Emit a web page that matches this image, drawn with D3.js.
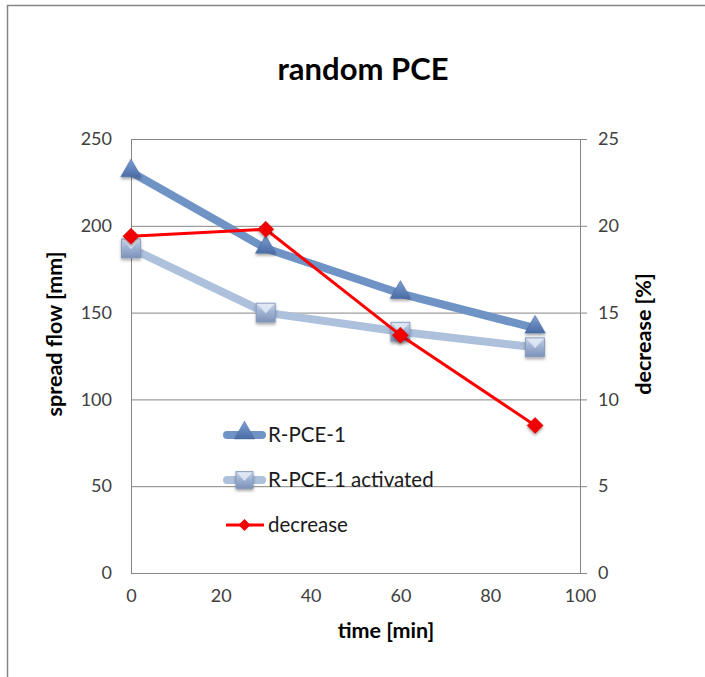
<!DOCTYPE html>
<html>
<head>
<meta charset="utf-8">
<script src="https://cdn.jsdelivr.net/npm/d3@7"></script>
<style>
  body { margin: 0; background: #fff; }
  text { font-family: Lato, "Open Sans", sans-serif; }
</style>
</head>
<body>
<div id="chart"></div>
<script>
// data
const times = [0, 30, 60, 90];
const rpce = [231, 187, 161, 141];
const rpceActivated = [187, 150, 139, 130];
const decrease = [19.4, 19.8, 13.7, 8.5];

const xTicks = [0, 20, 40, 60, 80, 100];
const yLeftTicks = [0, 50, 100, 150, 200, 250];
const yRightTicks = [0, 5, 10, 15, 20, 25];

const WIDTH = 705, HEIGHT = 677;
const PLOT = {left: 131, right: 580, top: 139, bottom: 573};

const svg = d3.select("#chart").append("svg")
    .attr("width", WIDTH)
    .attr("height", HEIGHT);

// chart frame (runs off the right and bottom)
svg.append("rect")
    .attr("x", 7.5).attr("y", 5.5)
    .attr("width", 720).attr("height", 700)
    .attr("fill", "#fff")
    .attr("stroke", "#868686")
    .attr("stroke-width", 1.5);

const defs = svg.append("defs");

const triGrad = defs.append("linearGradient").attr("id", "triGrad")
    .attr("x1", 0).attr("y1", 0).attr("x2", 0).attr("y2", 1);
triGrad.append("stop").attr("offset", "0%").attr("stop-color", "#7d9fd3");
triGrad.append("stop").attr("offset", "100%").attr("stop-color", "#4a6ca5");

const sqGrad = defs.append("linearGradient").attr("id", "sqGrad")
    .attr("x1", 0).attr("y1", 0).attr("x2", 0).attr("y2", 1);
sqGrad.append("stop").attr("offset", "0%").attr("stop-color", "#c9d6ea");
sqGrad.append("stop").attr("offset", "45%").attr("stop-color", "#9fb3d4");
sqGrad.append("stop").attr("offset", "100%").attr("stop-color", "#7d92b8");

const shadow = defs.append("filter").attr("id", "shadow")
    .attr("x", "-50%").attr("y", "-50%").attr("width", "200%").attr("height", "200%");
shadow.append("feDropShadow")
    .attr("dx", 0).attr("dy", 2).attr("stdDeviation", 1.5)
    .attr("flood-color", "#000").attr("flood-opacity", 0.35);

// scales
const X = d3.scaleLinear().domain([0, 100]).range([PLOT.left, PLOT.right]);
const YL = d3.scaleLinear().domain([0, 250]).range([PLOT.bottom, PLOT.top]);
const YR = d3.scaleLinear().domain([0, 25]).range([PLOT.bottom, PLOT.top]);

// gridlines
svg.append("g")
    .attr("transform", "translate(" + PLOT.left + ",0)")
    .call(d3.axisLeft(YL).tickValues(yLeftTicks)
        .tickSize(-(PLOT.right - PLOT.left)).tickFormat(""))
    .call(g => g.select(".domain").remove())
    .call(g => g.selectAll("line").attr("stroke", "#868686"));

// left axis
const leftAxis = svg.append("g")
    .attr("transform", "translate(" + PLOT.left + ",0)")
    .call(d3.axisLeft(YL).tickValues(yLeftTicks).tickSize(0).tickPadding(19));
leftAxis.select(".domain").attr("stroke", "#868686");
leftAxis.selectAll("text").attr("font-size", "18px").attr("fill", "#404040")
    .attr("font-family", "Lato, sans-serif");

// right axis
const rightAxis = svg.append("g")
    .attr("transform", "translate(" + PLOT.right + ",0)")
    .call(d3.axisRight(YR).tickValues(yRightTicks).tickSize(7).tickPadding(11));
rightAxis.select(".domain").attr("stroke", "#868686");
rightAxis.selectAll("line").attr("stroke", "#868686");
rightAxis.selectAll("text").attr("font-size", "18px").attr("fill", "#404040")
    .attr("font-family", "Lato, sans-serif");

// bottom axis
const bottomAxis = svg.append("g")
    .attr("transform", "translate(0," + PLOT.bottom + ")")
    .call(d3.axisBottom(X).tickValues(xTicks).tickSize(0).tickPadding(16));
bottomAxis.select(".domain").attr("stroke", "#868686");
bottomAxis.selectAll("text").attr("font-size", "18px").attr("fill", "#404040")
    .attr("font-family", "Lato, sans-serif");

// titles
svg.append("text")
    .attr("x", 363).attr("y", 80)
    .attr("text-anchor", "middle")
    .attr("font-size", "31px").attr("font-weight", "bold")
    .text("random PCE");

svg.append("text")
    .attr("x", 386).attr("y", 638)
    .attr("text-anchor", "middle")
    .attr("font-size", "21.5px").attr("font-weight", "bold")
    .text("time [min]");

svg.append("text")
    .attr("transform", "translate(62,334) rotate(-90)")
    .attr("text-anchor", "middle")
    .attr("font-size", "21.5px").attr("font-weight", "bold")
    .text("spread flow [mm]");

svg.append("text")
    .attr("transform", "translate(651,334) rotate(-90)")
    .attr("text-anchor", "middle")
    .attr("font-size", "21.5px").attr("font-weight", "bold")
    .text("decrease [%]");

// marker shapes
const triPath = d3.symbol().type(d3.symbolTriangle).size(180);
const diaPath = "M0,-8L8,0L0,8L-8,0Z";

function drawSquare(g, cx, cy, s) {
  g.append("rect")
      .attr("x", cx - s / 2).attr("y", cy - s / 2)
      .attr("width", s).attr("height", s)
      .attr("fill", "url(#sqGrad)")
      .attr("stroke", "#8396b8").attr("stroke-width", 0.8)
      .attr("filter", "url(#shadow)");
  // bevel highlight
  g.append("path")
      .attr("d", "M" + (cx - s / 2 + 1) + "," + (cy - s / 2 + 1) +
                 "L" + (cx + s / 2 - 1) + "," + (cy - s / 2 + 1) +
                 "L" + cx + "," + (cy + 1) + "Z")
      .attr("fill", "#e6edf7").attr("opacity", 0.8);
}

const series1 = times.map((t, i) => ({x: t, y: rpce[i]}));
const series2 = times.map((t, i) => ({x: t, y: rpceActivated[i]}));
const series3 = times.map((t, i) => ({x: t, y: decrease[i]}));

const lineL = d3.line().x(d => X(d.x)).y(d => YL(d.y));
const lineR = d3.line().x(d => X(d.x)).y(d => YR(d.y));

// R-PCE-1
svg.append("path").datum(series1)
    .attr("d", lineL).attr("fill", "none")
    .attr("stroke", "#7093c6").attr("stroke-width", 8)
    .attr("stroke-linejoin", "round");
svg.selectAll(".tri").data(series1).enter().append("path")
    .attr("class", "tri")
    .attr("d", triPath)
    .attr("transform", d => "translate(" + X(d.x) + "," + (YL(d.y) - 1) + ")")
    .attr("fill", "url(#triGrad)")
    .attr("stroke", "#4a6ca5").attr("stroke-width", 0.6)
    .attr("filter", "url(#shadow)");

// R-PCE-1 activated
svg.append("path").datum(series2)
    .attr("d", lineL).attr("fill", "none")
    .attr("stroke", "#adc0dc").attr("stroke-width", 8)
    .attr("stroke-linejoin", "round");
const sqG = svg.append("g");
series2.forEach(d => drawSquare(sqG, X(d.x), YL(d.y), 19));

// decrease
svg.append("path").datum(series3)
    .attr("d", lineR).attr("fill", "none")
    .attr("stroke", "#ff0000").attr("stroke-width", 3)
    .attr("stroke-linejoin", "round");
svg.selectAll(".dia").data(series3).enter().append("path")
    .attr("class", "dia")
    .attr("d", diaPath)
    .attr("transform", d => "translate(" + X(d.x) + "," + YR(d.y) + ")")
    .attr("fill", "#f00000")
    .attr("stroke", "#d00000").attr("stroke-width", 0.6)
    .attr("filter", "url(#shadow)");

// legend
const legendItems = ["R-PCE-1", "R-PCE-1 activated", "decrease"];
const legendY = [435, 480, 525];
const legend = svg.append("g");
legendItems.forEach((name, i) => {
  const y = legendY[i];
  if (i === 0) {
    legend.append("line").attr("x1", 227).attr("x2", 262).attr("y1", y).attr("y2", y)
        .attr("stroke", "#7093c6").attr("stroke-width", 8).attr("stroke-linecap", "round");
    legend.append("path").attr("d", triPath)
        .attr("transform", "translate(244.5," + (y - 2) + ")")
        .attr("fill", "url(#triGrad)").attr("stroke", "#4a6ca5").attr("stroke-width", 0.6);
  } else if (i === 1) {
    legend.append("line").attr("x1", 227).attr("x2", 262).attr("y1", y).attr("y2", y)
        .attr("stroke", "#adc0dc").attr("stroke-width", 8).attr("stroke-linecap", "round");
    drawSquare(legend, 244.5, y, 17);
  } else {
    legend.append("line").attr("x1", 226).attr("x2", 264).attr("y1", y).attr("y2", y)
        .attr("stroke", "#ff0000").attr("stroke-width", 3);
    legend.append("path").attr("d", "M0,-6L6,0L0,6L-6,0Z")
        .attr("transform", "translate(244.5," + y + ")")
        .attr("fill", "#f00000");
  }
  legend.append("text")
      .attr("x", 268).attr("y", y + 7)
      .attr("font-size", "20.5px").attr("fill", "#1a1a1a")
      .text(name);
});
</script>
</body>
</html>
